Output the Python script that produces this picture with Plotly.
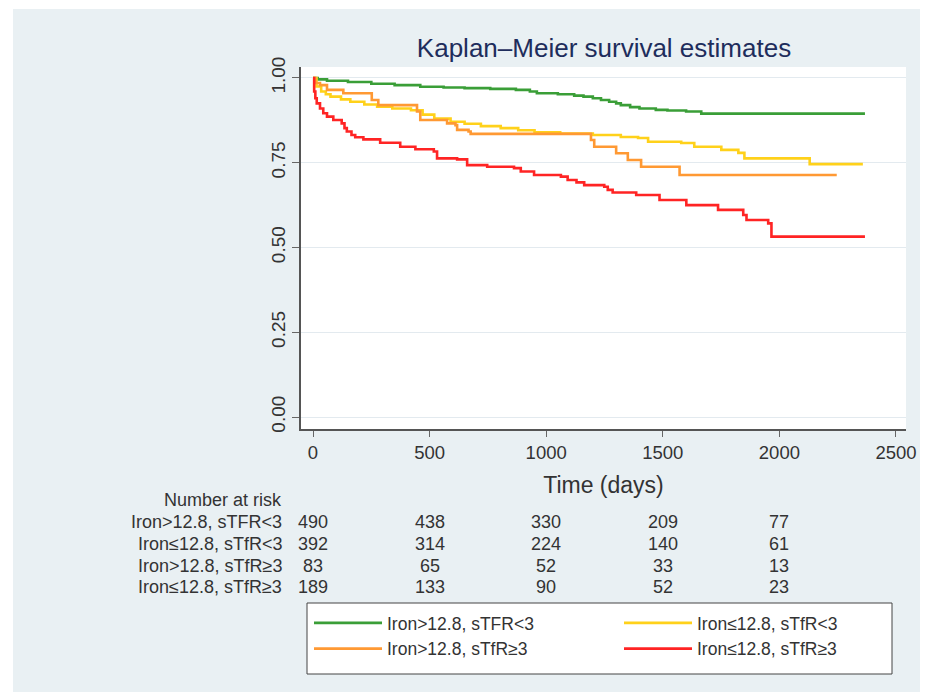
import plotly.graph_objects as go

# ---- data ----
green_t = [0, 20, 60, 150, 250, 350, 460, 560, 650, 760, 870, 930, 960, 1050, 1120, 1160, 1200, 1235, 1270, 1300, 1320, 1360, 1400, 1470, 1520, 1600, 1665, 2367]
green_s = [1.000, 0.996, 0.992, 0.988, 0.983, 0.979, 0.974, 0.972, 0.970, 0.968, 0.965, 0.960, 0.955, 0.952, 0.948, 0.945, 0.940, 0.935, 0.930, 0.925, 0.920, 0.914, 0.910, 0.906, 0.904, 0.901, 0.895, 0.895]

yellow_t = [0, 15, 35, 55, 75, 120, 160, 220, 275, 340, 420, 470, 520, 590, 650, 720, 805, 880, 950, 1060, 1200, 1320, 1394, 1437, 1579, 1635, 1751, 1824, 1850, 2130, 2358]
yellow_s = [1.000, 0.975, 0.960, 0.952, 0.945, 0.937, 0.930, 0.922, 0.915, 0.910, 0.905, 0.892, 0.880, 0.871, 0.865, 0.858, 0.852, 0.846, 0.840, 0.836, 0.832, 0.826, 0.823, 0.812, 0.808, 0.797, 0.788, 0.779, 0.763, 0.746, 0.746]

orange_t = [0, 10, 30, 60, 130, 252, 280, 446, 460, 575, 611, 618, 667, 676, 1192, 1206, 1300, 1350, 1407, 1572, 2246]
orange_s = [1.000, 0.985, 0.979, 0.965, 0.955, 0.935, 0.920, 0.901, 0.876, 0.866, 0.861, 0.847, 0.842, 0.835, 0.817, 0.797, 0.778, 0.758, 0.738, 0.714, 0.714]

red_t = [0, 5, 10, 16, 30, 44, 60, 87, 123, 135, 145, 165, 181, 216, 288, 374, 439, 518, 532, 618, 661, 747, 862, 891, 948, 1063, 1092, 1130, 1163, 1249, 1264, 1285, 1386, 1486, 1601, 1737, 1845, 1859, 1952, 1966, 2367]
red_s = [1.000, 0.960, 0.940, 0.925, 0.910, 0.896, 0.886, 0.876, 0.866, 0.852, 0.842, 0.832, 0.825, 0.819, 0.809, 0.797, 0.790, 0.783, 0.763, 0.760, 0.743, 0.738, 0.734, 0.724, 0.714, 0.709, 0.699, 0.692, 0.684, 0.679, 0.670, 0.662, 0.655, 0.640, 0.625, 0.611, 0.596, 0.581, 0.571, 0.532, 0.532]

group_names = ["Iron>12.8, sTFR<3", "Iron≤12.8, sTfR<3", "Iron>12.8, sTfR≥3", "Iron≤12.8, sTfR≥3"]
group_colors = ["#3a9e37", "#ffd11a", "#ff9933", "#ff2424"]
group_legend = ["legend", "legend2", "legend", "legend2"]

risk_times = [0, 500, 1000, 1500, 2000]
risk_row1 = [490, 438, 330, 209, 77]
risk_row2 = [392, 314, 224, 140, 61]
risk_row3 = [83, 65, 52, 33, 13]
risk_row4 = [189, 133, 90, 52, 23]

x_ticks = [0, 500, 1000, 1500, 2000, 2500]
y_ticks = [0, 0.25, 0.5, 0.75, 1.0]

FONT = "Liberation Sans, Arial, sans-serif"
BG = "#e9f0f3"
TXT = "#333333"

series = [(green_t, green_s), (yellow_t, yellow_s), (orange_t, orange_s), (red_t, red_s)]

fig = go.Figure()
for i, ((t, s), name, col, lg) in enumerate(zip(series, group_names, group_colors, group_legend)):
    fig.add_trace(go.Scatter(x=t, y=s, mode="lines", name=name, legend=lg,
                             legendgroup="g%d" % i,
                             line=dict(color=col, width=2.6, shape="hv")))

# page geometry (the page body adds an 8px offset)
W, H = 928, 692
OFF = 8
L, R, T, B = 301 - OFF, 906 - OFF, 67 - OFF, 429 - OFF

# reference-screen coordinates -> paper coordinates
RL, RR, RT, RB = 301, 906, 67, 429
def fy(p):
    return (RB - p) / (RB - RT)
def fx(p):
    return (p - RL) / (RR - RL)

TF = 18
ann = []
ann.append(dict(text="Number at risk", xref="paper", yref="paper", x=fx(284), y=fy(500),
                xanchor="right", yanchor="middle", showarrow=False,
                font=dict(family=FONT, size=TF, color=TXT)))
rows = [risk_row1, risk_row2, risk_row3, risk_row4]
row_y = [522, 544, 566, 587]
for name, vals, yy in zip(group_names, rows, row_y):
    ann.append(dict(text=name, xref="paper", yref="paper", x=fx(284), y=fy(yy),
                    xanchor="right", yanchor="middle", showarrow=False,
                    font=dict(family=FONT, size=TF, color=TXT)))
    for tt, v in zip(risk_times, vals):
        ann.append(dict(text=str(v), xref="x", yref="paper", x=tt, y=fy(yy),
                        xanchor="center", yanchor="middle", showarrow=False,
                        font=dict(family=FONT, size=TF, color=TXT)))

shapes = [
    dict(type="rect", xref="paper", yref="paper", x0=-0.6, x1=fx(13), y0=-1.0, y1=1.3,
         fillcolor="white", line=dict(width=0), layer="below"),
    dict(type="rect", xref="paper", yref="paper", x0=-0.6, x1=1.1, y0=fy(9), y1=1.3,
         fillcolor="white", line=dict(width=0), layer="below"),
    # legend frame
    dict(type="rect", xref="paper", yref="paper", x0=fx(307), x1=fx(892), y0=fy(674), y1=fy(603),
         fillcolor="white", line=dict(width=1, color="#444444"), layer="below"),
]

leg_common = dict(orientation="v", yanchor="top", xanchor="left", bgcolor="rgba(0,0,0,0)",
                  borderwidth=0, itemwidth=68, tracegroupgap=5, traceorder="normal",
                  font=dict(family=FONT, size=17.5, color=TXT))

fig.update_layout(
    width=W, height=H,
    margin=dict(l=L, r=W - R, t=T, b=H - B),
    paper_bgcolor=BG, plot_bgcolor="white",
    font=dict(family=FONT, size=17, color=TXT),
    title=dict(text="Kaplan–Meier survival estimates", x=fx(604), xanchor="center",
               xref="paper", y=1 - (48 - OFF) / H, yref="container", yanchor="middle",
               font=dict(family=FONT, size=26, color="#1e2d5c")),
    xaxis=dict(range=[-51.5, 2543], tickvals=x_ticks, ticks="outside", ticklen=6,
               tickcolor="#666666", showline=True, linecolor="#555555", linewidth=1.5,
               showgrid=False, zeroline=False, tickfont=dict(family=FONT, size=18.5, color=TXT),
               title=dict(text="Time (days)", standoff=15,
                          font=dict(family=FONT, size=23, color=TXT))),
    yaxis=dict(range=[-0.0354, 1.0324], tickvals=y_ticks, tickformat=".2f", ticks="outside",
               ticklen=7, tickcolor="#666666", tickangle=-90, showline=True,
               linecolor="#555555", linewidth=1.5, showgrid=True, gridcolor="#e3eaef",
               gridwidth=1, zeroline=False, tickfont=dict(family=FONT, size=19, color=TXT)),
    legend=dict(x=fx(309), y=fy(605), **leg_common),
    legend2=dict(x=fx(619), y=fy(605), **leg_common),
    annotations=ann,
    shapes=shapes,
    showlegend=True,
)

fig.write_html("out.html")
